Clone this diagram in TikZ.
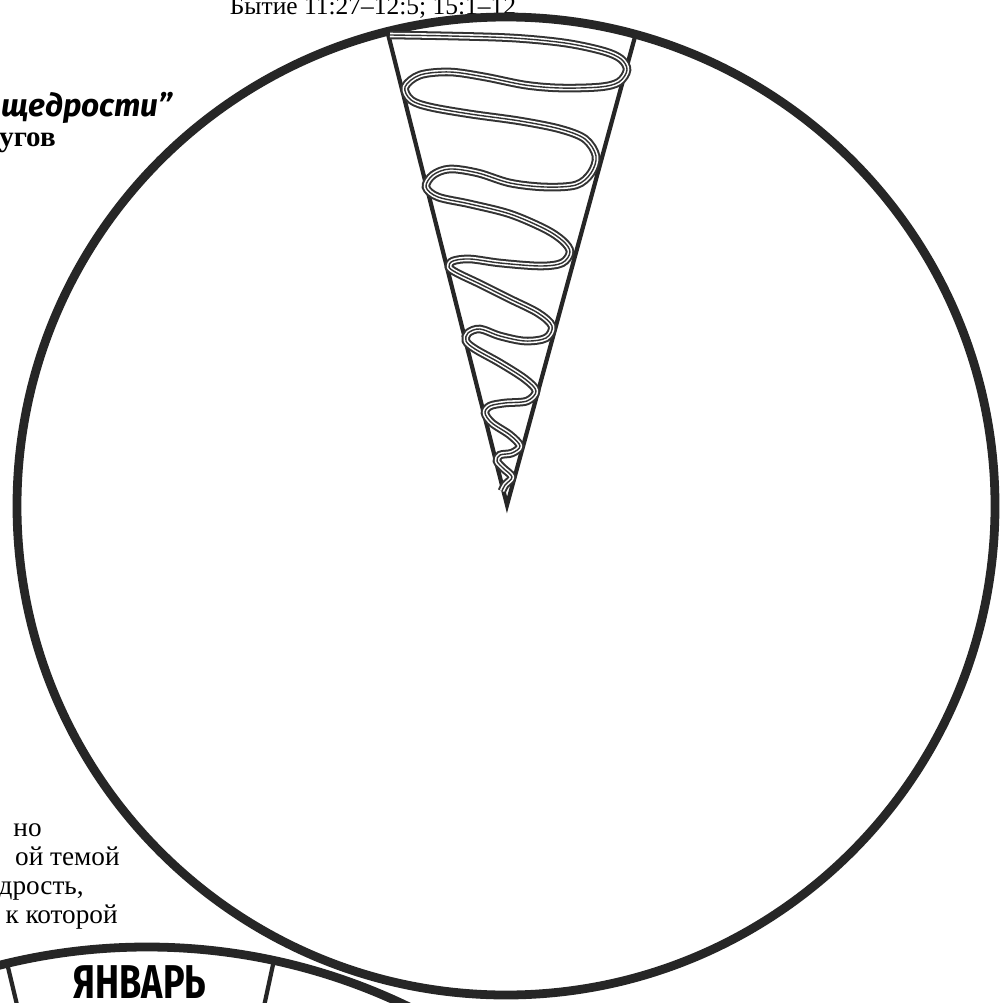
\documentclass[tikz,border=0pt]{standalone}
\usepackage{fontspec}
\setmainfont{Liberation Serif}
\newfontfamily\handfont{Fira Sans}

\begin{document}
\begin{tikzpicture}[
    x=0.02cm,
    y=-0.02cm,
    rim/.style={line width=5pt,draw=black!85},
    coneedge/.style={line width=2.4pt,draw=black!85,line join=miter},
    ribbon/.style={line width=2.6pt,draw=white,line join=round,
      preaction={draw=black!80,line width=4.9pt},
      postaction={draw=black!80,line width=0.8pt}},
    bodytext/.style={font=\fontsize{15.5}{17}\selectfont,anchor=base east,inner sep=0pt},
    handlabel/.style={font=\handfont\bfseries\fontsize{27}{29}\selectfont,inner sep=0pt}
  ]
    \useasboundingbox (0,0) rectangle (1001,1003);
    \clip (0,0) rectangle (1001,1003);
    \fill[white] (0,0) rectangle (1001,1003);

    \node[bodytext,anchor=base,font=\fontsize{14.5}{16}\selectfont] (verse) at (373,15)
      {Бытие 11:27–12:5; 15:1–12};
    \node[handlabel,anchor=base west,font=\handfont\bfseries\itshape\fontsize{18}{20}\selectfont]
      (theme) at (1,117) {щедрости”};
    \node[bodytext,font=\bfseries\fontsize{16.5}{18}\selectfont] (rounds) at (56,147) {угов};

    \node[bodytext] (lineA) at (42,836) {но};
    \node[bodytext] (lineB) at (120,865) {ой темой};
    \node[bodytext] (lineC) at (84,894) {щедрость,};
    \node[bodytext] (lineD) at (118,923) {к которой};

    % big wheel with the cone
    \coordinate (hub) at (506,506);
    \draw[rim] (hub) circle[radius=489];

    \coordinate (apex) at (507,505);
    \coordinate (coneL) at (387,30);
    \coordinate (coneR) at (636,33);
    \draw[coneedge] (coneL) -- (apex) -- (coneR);

    \draw[ribbon] plot[smooth,tension=0.55] coordinates {
      (390,35) (450,36) (513,38) (565,43) (603,51) (621,59) (627,70)
      (619,82) (600,87) (560,88) (525,85) (485,77) (450,72) (420,75)
      (405,87) (411,100) (430,107) (470,114) (520,121) (560,129) (585,139)
      (596,156) (591,173) (576,185) (545,187) (510,183) (478,173) (450,169)
      (433,175) (426,187) (438,197) (470,204) (510,214) (545,229) (563,241)
      (570,252) (562,263) (540,266) (500,263) (470,259) (453,261) (449,267)
      (457,273) (480,284) (510,299) (538,313) (552,326) (546,338) (525,341)
      (500,336) (480,329) (468,333) (466,341) (475,349) (500,363) (525,379)
      (536,391) (527,401) (505,403) (490,406) (485,413) (492,423) (510,435)
      (520,446) (512,453) (500,455) (497,461) (503,468) (512,477) (505,485)
      (502,491)};

    % second wheel, lower left
    \coordinate (hubB) at (147,1548);
    \draw[rim] (hubB) circle[radius=601];
    \coordinate (spokeA) at (7,963);
    \coordinate (spokeB) at (274,960);
    \draw[coneedge] (spokeA) -- (hubB);
    \draw[coneedge] (spokeB) -- (hubB);

    \node[handlabel] (jan) at (140,982) {\scalebox{0.76}[1]{ЯНВАРЬ}};
  \end{tikzpicture}
\end{document}
